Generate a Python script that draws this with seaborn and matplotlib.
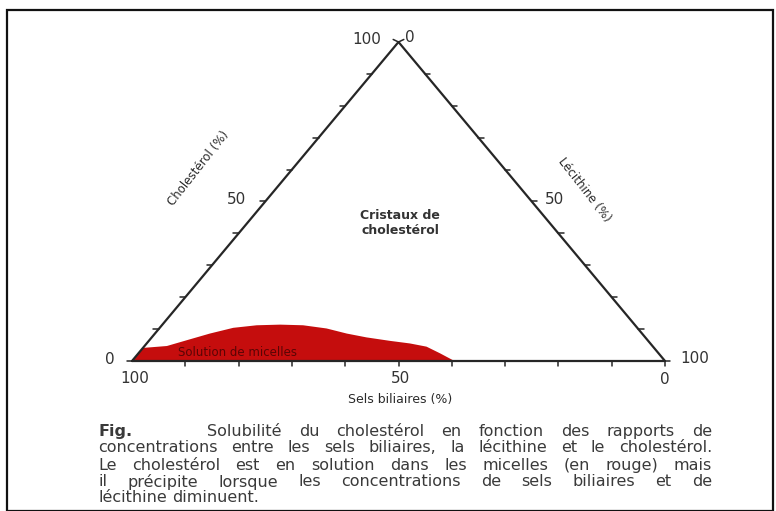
import numpy as np
import pandas as pd
import seaborn as sns
import matplotlib.pyplot as plt
from matplotlib.patches import Rectangle

# ternary diagram: sels biliaires / lecithine / cholesterol (%)
tick_values = [10, 20, 30, 40, 50, 60, 70, 80, 90]

# upper boundary of the micelle (liquid) zone
micelle_lecithine = [0, 0, 4.2, 7.0, 10.3, 13.8, 17.8, 22.1, 26.5, 31.4,
                     36.0, 40.3, 45.3, 49.4, 53.0, 56.6, 60.5]
micelle_cholesterol = [0, 4.1, 4.7, 6.5, 8.6, 10.4, 11.2, 11.4, 11.2, 10.2,
                       8.6, 7.4, 6.3, 5.5, 4.5, 2.4, 0]

caption_lines = [
    "Solubilité du cholestérol en fonction des rapports de",
    "concentrations entre les sels biliaires, la lécithine et le cholestérol.",
    "Le cholestérol est en solution dans les micelles (en rouge) mais",
    "il précipite lorsque les concentrations de sels biliaires et de",
    "lécithine diminuent.",
]

W, H = 776, 511
line_col = '#262626'
red = '#c50d0d'


def to_xy(lec, chol):
    lec = np.asarray(lec, dtype=float)
    chol = np.asarray(chol, dtype=float)
    return lec + chol / 2.0, chol


sns.set_theme(style='white')
plt.rcParams['font.family'] = ['DejaVu Sans']

fig = plt.figure(figsize=(W / 100, H / 100), dpi=100)
fig.patch.set_facecolor('white')
ax = fig.add_axes([132 / W, (H - 361) / H, 533 / W, 319 / H])
ax.set_xlim(0, 100)
ax.set_ylim(0, 100)
ax.axis('off')

# micelle zone
mx, my = to_xy(micelle_lecithine, micelle_cholesterol)
ax.fill(mx, my, color=red, lw=0, zorder=1, clip_on=False)

# triangle outline
corners = pd.DataFrame({'lec': [0, 100, 0, 0], 'chol': [0, 0, 100, 0]})
cx, cy = to_xy(corners['lec'], corners['chol'])
outline = pd.DataFrame({'x': cx, 'y': cy})
sns.lineplot(data=outline, x='x', y='y', sort=False, estimator=None,
             color=line_col, lw=1.6, ax=ax, zorder=3)
for l in ax.lines:
    l.set_clip_on(False)

# ticks (short marks, in data units)
dx_tick = 1.0   # ~5 px horizontally
dy_tick = 1.6   # ~5 px vertically
for t in tick_values:
    bx, by = to_xy(t, 0)
    ax.plot([bx, bx], [0, -dy_tick], color=line_col, lw=1.1, clip_on=False)
    lx, ly = to_xy(0, t)
    ax.plot([lx, lx - dx_tick], [ly, ly], color=line_col, lw=1.1, clip_on=False)
    rx, ry = to_xy(t, 100 - t)
    ax.plot([rx, rx + dx_tick], [ry, ry], color=line_col, lw=1.1, clip_on=False)
# corner marks
ax.plot([-dx_tick, 0], [0, 0], color=line_col, lw=1.1, clip_on=False)
ax.plot([100, 100 + dx_tick], [0, 0], color=line_col, lw=1.1, clip_on=False)
ax.plot([100, 100], [0, -dy_tick], color=line_col, lw=1.1, clip_on=False)
ax.plot([50 - dx_tick, 50, 50 + dx_tick], [100.8, 100, 100.8],
        color=line_col, lw=1.1, clip_on=False)

# scale numbers
num_kw = dict(textcoords='offset pixels', ha='center', va='center',
              fontsize=11, color='#333333', annotation_clip=False)
for (lec, chol), s, off in [
        ((0, 0), '100', (3, -17)), ((50, 0), '50', (2, -17)), ((100, 0), '0', (0, -18)),
        ((0, 0), '0', (-22, 2)), ((0, 50), '50', (-29, 2)), ((0, 100), '100', (-32, 3)),
        ((0, 100), '0', (11, 4)), ((50, 50), '50', (23, 2)), ((100, 0), '100', (30, 3))]:
    px, py = to_xy(lec, chol)
    ax.annotate(s, xy=(float(px), float(py)), xytext=off, **num_kw)


def ftext(x, y, s, **kw):
    return fig.text(x / W, 1 - y / H, s, **kw)


ftext(400, 399, 'Sels biliaires (%)', ha='center', va='center', fontsize=9,
      color='#2a2a2a')
ftext(198, 168, 'Cholestérol (%)', ha='center', va='center', fontsize=8.5,
      rotation=52, color='#2a2a2a')
ftext(584, 190, 'Lécithine (%)', ha='center', va='center', fontsize=8.5,
      rotation=-52, color='#2a2a2a')
ftext(400, 223, 'Cristaux de\ncholestérol', ha='center', va='center',
      fontsize=9, fontweight='bold', color='#333333', linespacing=1.25)
ftext(237, 352, 'Solution de micelles', ha='center', va='center',
      fontsize=8.5, color='#5a0505', zorder=5)

# caption, justified between x=98 and x=712
renderer = fig.canvas.get_renderer()
cap_kw = dict(fontsize=11.5, color='#3a3a3a', va='center', ha='left')
ftext(98, 431, 'Fig.', fontweight='bold', **cap_kw)
left_x, right_x = 98, 712
ys = [431, 448, 465, 482, 498]
probe = ftext(0, 0, 'a a', **cap_kw)
probe2 = ftext(0, 0, 'aa', **cap_kw)
space_w = probe.get_window_extent(renderer).width - probe2.get_window_extent(renderer).width
probe.remove()
probe2.remove()
for i, (line, y) in enumerate(zip(caption_lines, ys)):
    x0 = 207 if i == 0 else left_x
    words = line.split(' ')
    texts = [ftext(x0, y, w, **cap_kw) for w in words]
    widths = [t.get_window_extent(renderer).width for t in texts]
    if i == len(caption_lines) - 1:
        gap = space_w
    else:
        gap = (right_x - x0 - sum(widths)) / (len(words) - 1)
    x = x0
    for t, w in zip(texts, widths):
        t.set_x(x / W)
        x += w + gap

# page frame
fig.patches.append(Rectangle((7 / W, 0), (773 - 7) / W, 1 - 10 / H,
                             transform=fig.transFigure, fill=False,
                             ec='#111111', lw=1.6))

fig.savefig('out.png', dpi=100, facecolor='white')
